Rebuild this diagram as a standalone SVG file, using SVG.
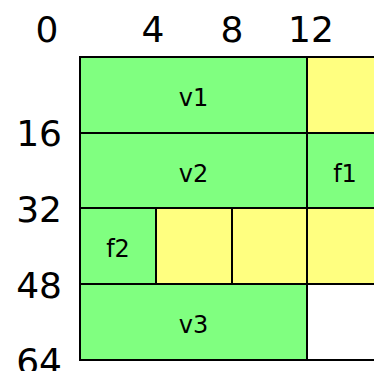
<svg xmlns="http://www.w3.org/2000/svg" width="374" height="371" viewBox="0 0 374 371">
<style>
.g{fill:#80ff80;stroke:#000;stroke-width:2}
.y{fill:#ffff80;stroke:#000;stroke-width:2}
.w{fill:#fff;stroke:#000;stroke-width:2}
.ax{font-family:"DejaVu Sans",Verdana,sans-serif;font-size:36px;fill:#000}
.lb{font-family:"DejaVu Sans",Verdana,sans-serif;font-size:24px;fill:#000;text-anchor:middle}
</style>
<rect width="374" height="371" fill="#fff"/>
<g id="axes">
<text class="ax" x="47" y="42" text-anchor="middle">0</text>
<text class="ax" x="153" y="42" text-anchor="middle">4</text>
<text class="ax" x="232" y="42" text-anchor="middle">8</text>
<text class="ax" x="311" y="42" text-anchor="middle">12</text>
<text class="ax" x="62" y="146" text-anchor="end">16</text>
<text class="ax" x="62" y="222" text-anchor="end">32</text>
<text class="ax" x="62" y="298" text-anchor="end">48</text>
<text class="ax" x="62" y="374" text-anchor="end">64</text>
</g>
<g id="y1"><rect class="y" x="307" y="57" width="76" height="76"/></g>
<g id="f1"><rect class="g" x="307" y="133" width="76" height="75"/><text class="lb" x="345" y="182">f1</text></g>
<g id="y2"><rect class="y" x="156" y="208" width="76" height="76"/></g>
<g id="y3"><rect class="y" x="232" y="208" width="75" height="76"/></g>
<g id="y4"><rect class="y" x="307" y="208" width="76" height="76"/></g>
<g id="empty"><rect class="w" x="307" y="284" width="76" height="76"/></g>
<g id="v1"><rect class="g" x="80" y="57" width="227" height="76"/><text class="lb" x="193.5" y="106">v1</text></g>
<g id="v2"><rect class="g" x="80" y="133" width="227" height="75"/><text class="lb" x="193.5" y="182">v2</text></g>
<g id="f2"><rect class="g" x="80" y="208" width="76" height="76"/><text class="lb" x="118" y="257">f2</text></g>
<g id="v3"><rect class="g" x="80" y="284" width="227" height="76"/><text class="lb" x="193.5" y="333">v3</text></g>
<g id="connectors"></g>
</svg>
